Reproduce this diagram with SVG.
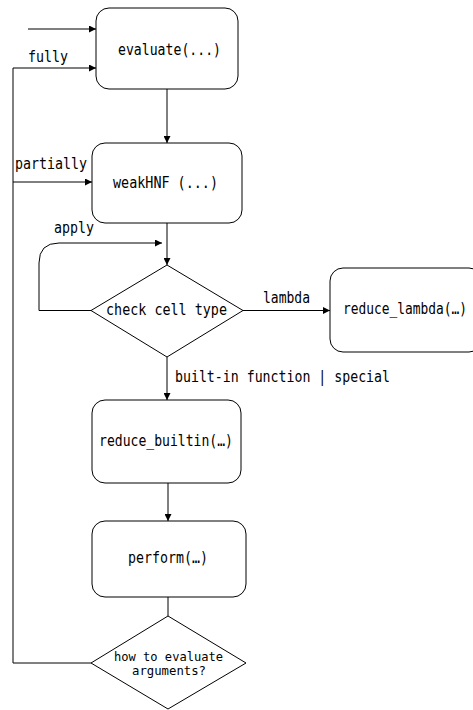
<svg xmlns="http://www.w3.org/2000/svg" width="473" height="710" viewBox="0 0 473 710">
  <style>
    .box { fill: #ffffff; stroke: #000000; stroke-width: 1; }
    .edge { fill: none; stroke: #000000; stroke-width: 1; }
    text { font-family: "DejaVu Sans Mono", "Liberation Mono", monospace; font-size: 15px; fill: #000000; }
    .small { font-size: 13px; }
  </style>
  <defs>
    <marker id="arrow" viewBox="0 0 10 10" refX="10" refY="5" markerWidth="9" markerHeight="7" markerUnits="userSpaceOnUse" orient="auto">
      <path d="M0,0 L10,5 L0,10 Z" fill="#000000"/>
    </marker>
  </defs>
  <rect width="473" height="710" fill="#ffffff"/>

  <g id="connectors">
    <!-- entry -->
    <path class="edge" d="M28,29 H96" marker-end="url(#arrow)"/>
    <!-- evaluate -> weakHNF -->
    <path class="edge" d="M167,89 V143" marker-end="url(#arrow)"/>
    <!-- weakHNF -> check cell type -->
    <path class="edge" d="M167,223 V265" marker-end="url(#arrow)"/>
    <!-- apply loop -->
    <path class="edge" d="M91,310.5 H39 V263 Q39,243 59,243 H162" marker-end="url(#arrow)"/>
    <!-- lambda -->
    <path class="edge" d="M243,310.5 H330" marker-end="url(#arrow)"/>
    <!-- built-in -->
    <path class="edge" d="M167,357 V400" marker-end="url(#arrow)"/>
    <!-- reduce_builtin -> perform -->
    <path class="edge" d="M168,483 V521" marker-end="url(#arrow)"/>
    <!-- perform -> how to evaluate -->
    <path class="edge" d="M168,597 V616"/>
    <!-- argument evaluation loop back -->
    <path class="edge" d="M91,663 H13 V68 H96" marker-end="url(#arrow)"/>
    <path class="edge" d="M13,182 H92" marker-end="url(#arrow)"/>
    <text x="28" y="62" textLength="40" lengthAdjust="spacingAndGlyphs">fully</text>
    <text x="15" y="169" textLength="72" lengthAdjust="spacingAndGlyphs">partially</text>
    <text x="54" y="233" textLength="40" lengthAdjust="spacingAndGlyphs">apply</text>
    <text x="263" y="303" textLength="47" lengthAdjust="spacingAndGlyphs">lambda</text>
    <text x="175" y="382" textLength="215" lengthAdjust="spacingAndGlyphs">built-in function | special</text>
  </g>

  <g id="evaluate">
    <rect class="box" x="96" y="8" width="142" height="81" rx="13"/>
    <text x="118" y="55" textLength="103" lengthAdjust="spacingAndGlyphs">evaluate(...)</text>
  </g>
  <g id="weakHNF">
    <rect class="box" x="92" y="143" width="150" height="80" rx="13"/>
    <text x="113" y="188" textLength="105" lengthAdjust="spacingAndGlyphs">weakHNF (...)</text>
  </g>
  <g id="check-cell-type">
    <polygon class="box" points="167,265 243,310.5 167,357 91,310.5"/>
    <text x="106" y="315" textLength="121" lengthAdjust="spacingAndGlyphs">check cell type</text>
  </g>
  <g id="reduce-lambda">
    <rect class="box" x="330" y="268" width="152" height="84" rx="13"/>
    <text x="343" y="314" textLength="124" lengthAdjust="spacingAndGlyphs">reduce_lambda(…)</text>
  </g>
  <g id="reduce-builtin">
    <rect class="box" x="92" y="400" width="149" height="83" rx="13"/>
    <text x="99" y="446" textLength="134" lengthAdjust="spacingAndGlyphs">reduce_builtin(…)</text>
  </g>
  <g id="perform">
    <rect class="box" x="92" y="521" width="154" height="76" rx="13"/>
    <text x="128" y="563" textLength="80" lengthAdjust="spacingAndGlyphs">perform(…)</text>
  </g>
  <g id="how-to-evaluate">
    <polygon class="box" points="168,616 246,663 168,709 91,663"/>
    <text class="small" x="114" y="661" textLength="109" lengthAdjust="spacingAndGlyphs">how to evaluate</text>
    <text class="small" x="132" y="675" textLength="74" lengthAdjust="spacingAndGlyphs">arguments?</text>
  </g>
</svg>
